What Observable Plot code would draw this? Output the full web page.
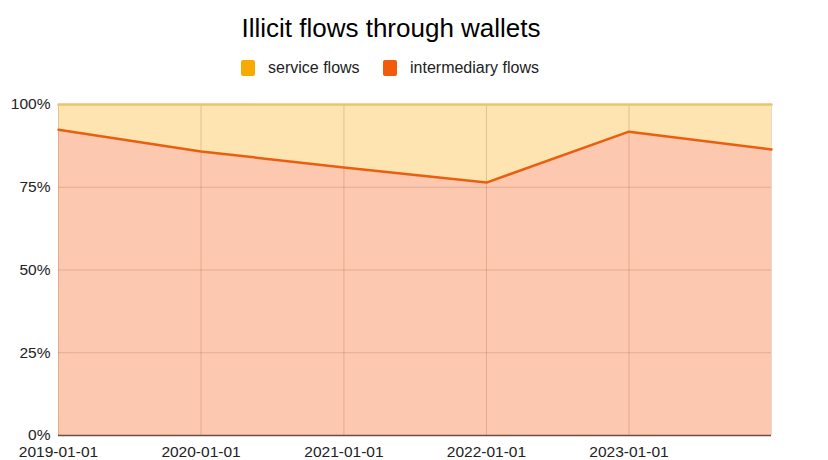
<!DOCTYPE html>
<html>
<head>
<meta charset="utf-8">
<script src="https://cdn.jsdelivr.net/npm/d3@7"></script>
<script src="https://cdn.jsdelivr.net/npm/@observablehq/plot@0.6"></script>
<style>
  body { margin: 0; background: #fff; font-family: "Liberation Sans", Arial, sans-serif; color: #222; }
  #wrap { width: 828px; height: 460px; position: relative; overflow: hidden; }
  #title { position: absolute; top: 10px; left: 0; width: 782px; text-align: center; font-size: 26px; line-height: 36px; color: #000; }
  #legend { position: absolute; top: 58px; left: 0; width: 828px; height: 20px; }
  .item { position: absolute; top: 0; display: flex; align-items: center; font-size: 16px; color: #222; line-height: 20px; }
  .sw { width: 14px; height: 16px; border-radius: 2px; margin-right: 13px; }
  #chart { position: absolute; top: 84px; left: 0; }
</style>
</head>
<body>
<div id="wrap">
  <div id="title">Illicit flows through wallets</div>
  <div id="legend"></div>
  <div id="chart"></div>
</div>
<script>
const dates = ["2019-01-01", "2020-01-01", "2021-01-01", "2022-01-01", "2023-01-01", "2024-01-01"];
const intermediary = [92.4, 85.8, 81.0, 76.4, 91.8, 86.4];
const service = [7.6, 14.2, 19.0, 23.6, 8.2, 13.6];
const seriesNames = ["service flows", "intermediary flows"];
const legendColors = ["#f7ab00", "#f25a0c"];
const xTickLabels = ["2019-01-01", "2020-01-01", "2021-01-01", "2022-01-01", "2023-01-01"];
const yTicks = [0, 25, 50, 75, 100];

const parse = d3.utcParse("%Y-%m-%d");
const fmt = d3.utcFormat("%Y-%m-%d");
const table = dates.map((d, i) => ({date: parse(d), i: intermediary[i], s: service[i]}));
const rows = table.flatMap(r => [
  {date: r.date, series: "intermediary flows", value: r.i},
  {date: r.date, series: "service flows", value: r.s}
]);

// legend
const legend = document.getElementById("legend");
const legendX = [241, 383];
seriesNames.forEach((name, k) => {
  const it = document.createElement("div");
  it.className = "item";
  it.style.left = legendX[k] + "px";
  it.innerHTML = `<span class="sw" style="background:${legendColors[k]}"></span><span>${name}</span>`;
  legend.appendChild(it);
});

const chart = Plot.plot({
  width: 828,
  height: 376,
  marginTop: 20,
  marginBottom: 25,
  marginLeft: 58,
  marginRight: 57,
  style: {fontFamily: "Liberation Sans, Arial, sans-serif", color: "#222", fontSize: "15.5px"},
  x: {type: "utc", domain: [parse(dates[0]), parse(dates[dates.length - 1])]},
  y: {domain: [0, 100]},
  color: {domain: seriesNames, range: ["#fde4b0", "#fdc8b0"]},
  marks: [
    Plot.areaY(rows, {x: "date", y: "value", z: "series", fill: "series", order: ["intermediary flows", "service flows"]}),
    Plot.gridY([25, 50, 75], {stroke: "#7a3a10", strokeOpacity: 0.2, strokeWidth: 1}),
    Plot.gridX(dates.map(parse), {stroke: "#7a3a10", strokeOpacity: 0.2, strokeWidth: 1}),
    Plot.lineY(table, {x: "date", y: d => d.i + d.s, stroke: "#e9c46f", strokeWidth: 2.5}),
    Plot.lineY(table, {x: "date", y: "i", stroke: "#e8600f", strokeWidth: 2.5}),
    Plot.ruleY([0], {stroke: "#6e4b3e", strokeWidth: 1.5}),
    Plot.axisY(yTicks, {tickSize: 0, tickPadding: 8, tickFormat: d => d + "%", fontSize: 15.5, label: null}),
    Plot.axisX(xTickLabels.map(parse), {tickSize: 0, tickPadding: 10, tickFormat: fmt, fontSize: 15.5, label: null})
  ]
});
document.getElementById("chart").appendChild(chart);
</script>
</body>
</html>
